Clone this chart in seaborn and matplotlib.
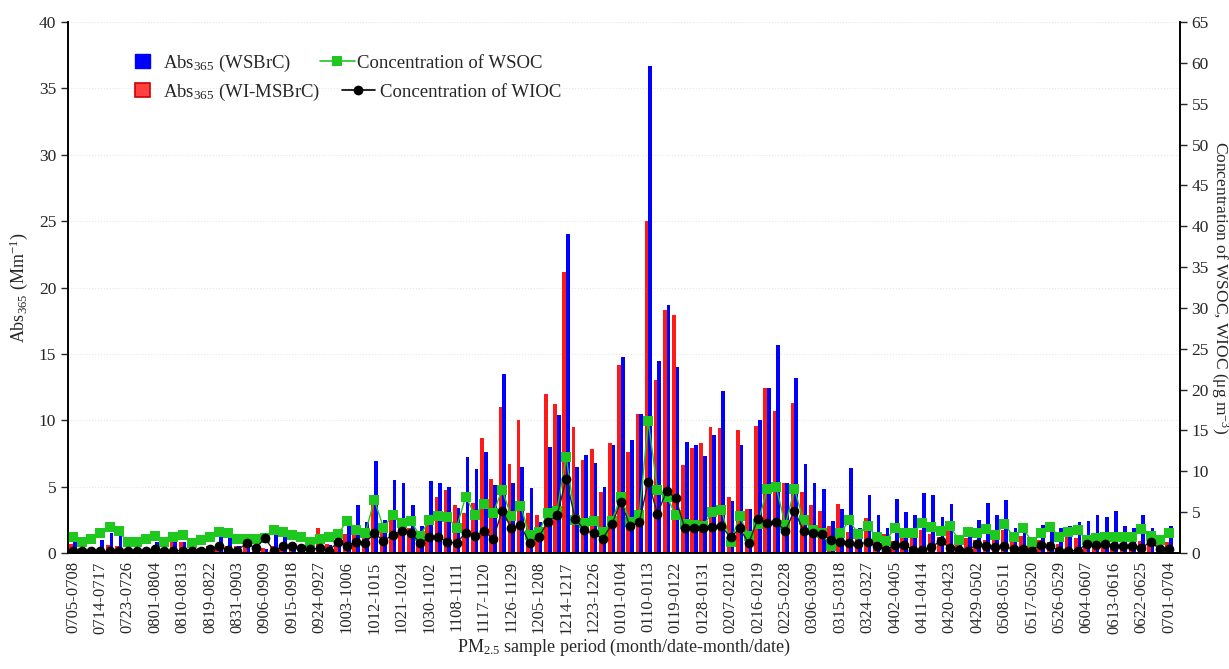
import numpy as np
import pandas as pd
import matplotlib
matplotlib.use("Agg")
import matplotlib.pyplot as plt
import seaborn as sns
from matplotlib.patches import Patch
from matplotlib.lines import Line2D
from matplotlib.legend import Legend

# ---------------- data ----------------
tick_labels = ["0705-0708", "0714-0717", "0723-0726", "0801-0804", "0810-0813", "0819-0822",
               "0831-0903", "0906-0909", "0915-0918", "0924-0927", "1003-1006", "1012-1015",
               "1021-1024", "1030-1102", "1108-1111", "1117-1120", "1126-1129", "1205-1208",
               "1214-1217", "1223-1226", "0101-0104", "0110-0113", "0119-0122", "0128-0131",
               "0207-0210", "0216-0219", "0225-0228", "0306-0309", "0315-0318", "0324-0327",
               "0402-0405", "0411-0414", "0420-0423", "0429-0502", "0508-0511", "0517-0520",
               "0526-0529", "0604-0607", "0613-0616", "0622-0625", "0701-0704"]

abs_wimsbrc = [0.7, 0.4, 0.3, 0.4, 0.6, 0.5, 0.3, 0.3, 0.3, 0.4,
               0.3, 0.8, 0.8, 0.3, 0.4, 0.5, 0.6, 0.5, 0.5, 0.7,
               0.3, 0.35, 0.5, 0.4, 0.4, 0.5, 0.3, 1.9, 0.7, 0.6,
               1.4, 1.5, 1.2, 3.6, 2.0, 2.5, 2.4, 1.9, 1.0, 2.1,
               4.2, 4.75, 3.6, 3.0, 3.8, 8.7, 5.6, 11.0, 6.7, 10.0,
               3.0, 2.9, 12.0, 11.2, 21.2, 9.5, 7.0, 7.8, 4.6, 8.3,
               14.2, 7.6, 10.5, 25.0, 13.0, 18.3, 17.9, 6.6, 7.9, 8.3,
               9.5, 9.4, 4.2, 9.3, 3.3, 9.6, 12.4, 10.7, 5.25, 11.3,
               4.6, 3.6, 3.2, 2.0, 3.7, 1.6, 1.6, 2.6, 1.2, 1.4,
               0.9, 1.2, 1.9, 1.7, 1.4, 1.2, 1.7, 1.0, 1.1, 1.0,
               1.0, 1.5, 1.7, 0.8, 1.3, 0.5, 1.0, 0.85, 0.7, 1.2,
               1.1, 0.5, 0.5, 0.7, 0.6, 0.7, 0.6, 0.9, 0.7, 0.7,
               0.85]

abs_wsbrc = [0.8, 0.4, 0.4, 1.0, 1.5, 1.35, 0.3, 0.3, 0.4, 0.85,
             0.4, 0.8, 0.8, 0.3, 0.4, 0.5, 1.2, 1.1, 0.5, 0.5,
             0.3, 0.3, 1.35, 1.2, 0.7, 0.5, 0.6, 0.6, 0.6, 1.0,
             2.0, 3.6, 2.3, 6.9, 2.5, 5.5, 5.25, 3.6, 2.0, 5.45,
             5.25, 5.0, 3.4, 7.2, 6.3, 7.6, 5.1, 13.5, 5.25, 6.5,
             4.9, 2.3, 8.0, 10.4, 24.0, 6.5, 7.4, 6.8, 5.0, 8.1,
             14.8, 8.5, 10.5, 36.7, 14.5, 18.7, 14.0, 8.4, 8.1, 7.3,
             8.9, 12.2, 3.9, 8.1, 3.3, 10.0, 12.4, 15.7, 5.25, 13.2,
             6.7, 5.3, 4.8, 2.4, 3.3, 6.4, 1.9, 4.4, 2.9, 1.9,
             4.1, 3.1, 2.9, 4.5, 4.4, 2.7, 3.7, 0.6, 1.2, 2.5,
             3.8, 2.9, 4.0, 1.9, 1.5, 0.5, 2.1, 1.6, 1.9, 2.0,
             2.3, 2.4, 2.9, 2.7, 3.2, 2.0, 1.9, 2.9, 1.9, 0.7,
             2.0]

conc_wsoc = [1.9, 1.4, 1.7, 2.4, 3.2, 2.7, 1.3, 1.35, 1.7, 2.1,
             1.3, 2.0, 2.2, 1.2, 1.6, 1.9, 2.6, 2.5, 1.7, 1.7,
             1.7, 1.8, 2.8, 2.6, 2.2, 1.9, 1.3, 1.7, 1.9, 2.3,
             3.9, 2.8, 2.4, 6.5, 3.1, 4.6, 3.7, 3.9, 2.1, 4.0,
             4.5, 4.4, 3.1, 6.9, 4.7, 6.0, 4.9, 7.7, 4.5, 5.8,
             2.2, 2.6, 4.9, 5.2, 11.8, 4.1, 3.7, 3.9, 2.6, 3.9,
             6.9, 3.8, 4.7, 16.1, 7.7, 6.9, 4.7, 3.5, 3.4, 3.3,
             5.0, 5.3, 1.3, 4.5, 2.1, 3.6, 7.8, 8.1, 3.4, 7.8,
             4.0, 2.8, 2.4, 0.8, 2.4, 4.0, 2.3, 3.3, 2.0, 1.5,
             3.1, 2.4, 2.5, 3.7, 3.2, 2.7, 3.3, 1.6, 2.6, 2.5,
             2.9, 2.2, 3.6, 1.9, 3.1, 1.4, 2.4, 3.2, 2.0, 2.6,
             2.8, 1.6, 1.8, 1.9, 2.0, 2.0, 1.9, 2.9, 2.1, 1.6,
             2.4]

conc_wioc = [0.2, 0.2, 0.3, 0.2, 0.2, 0.2, 0.2, 0.2, 0.3, 0.45,
             0.2, 0.3, 0.3, 0.2, 0.3, 0.5, 0.8, 0.4, 0.3, 1.2,
             0.6, 1.8, 0.3, 0.8, 0.9, 0.6, 0.45, 0.6, 0.3, 1.3,
             0.9, 1.4, 1.25, 2.4, 1.5, 2.2, 2.7, 2.5, 1.2, 1.9,
             1.95, 1.4, 1.2, 2.5, 2.1, 2.7, 1.7, 5.2, 3.0, 3.4,
             1.2, 2.0, 3.8, 4.6, 9.0, 4.2, 2.8, 2.4, 1.75, 3.5,
             6.3, 3.25, 3.75, 8.7, 4.8, 7.6, 6.7, 3.0, 3.1, 3.1,
             3.2, 3.3, 1.9, 3.0, 1.2, 4.2, 3.7, 3.8, 2.7, 5.2,
             2.7, 2.4, 2.3, 1.6, 1.4, 1.2, 1.1, 1.3, 0.8, 0.4,
             1.0, 1.0, 0.4, 0.4, 0.7, 1.5, 0.6, 0.4, 0.3, 1.1,
             0.9, 0.7, 0.8, 0.45, 0.45, 0.3, 1.0, 0.8, 0.3, 0.3,
             0.3, 1.1, 1.0, 1.1, 0.8, 0.8, 0.8, 0.6, 1.4, 0.45,
             0.45]

n = len(abs_wsbrc)
sample_idx = np.arange(n)

# ---------------- style ----------------
sns.set_style("white")
plt.rcParams["font.family"] = ["Liberation Serif", "DejaVu Serif"]
plt.rcParams["mathtext.fontset"] = "custom"
plt.rcParams["mathtext.rm"] = "Liberation Serif"
plt.rcParams["mathtext.it"] = "Liberation Serif:italic"
plt.rcParams["mathtext.bf"] = "Liberation Serif:bold"

RED = "#ff1a1a"
BLUE = "#0000ff"
GREEN = "#1ec81e"

fig = plt.figure(figsize=(12.29, 6.69), dpi=100)
ax = fig.add_axes([0.0553, 0.1734, 0.9047, 0.7936])

df = pd.DataFrame({
    "sample": np.concatenate([sample_idx, sample_idx]),
    "abs": np.concatenate([abs_wimsbrc, abs_wsbrc]),
    "type": ["WI-MSBrC"] * n + ["WSBrC"] * n,
})

ax.grid(True, color="#e6e6e6", linestyle=":", linewidth=0.8)
ax.set_axisbelow(True)

sns.barplot(data=df, x="sample", y="abs", hue="type", hue_order=["WI-MSBrC", "WSBrC"],
            palette=[RED, BLUE], saturation=1, width=0.8, errorbar=None,
            legend=False, ax=ax, linewidth=0)

ax.set_xlim(-0.55, 121.2)
ax.set_ylim(0, 40)
ax.set_yticks(np.arange(0, 41, 5))
ax.set_xticks(sample_idx)
labels_full = [""] * n
for k, lab in enumerate(tick_labels):
    labels_full[k * 3] = lab
ax.set_xticklabels(labels_full, rotation=90, fontsize=12)
ax.tick_params(axis="x", direction="out", length=4, width=0.8, pad=2)
ax.tick_params(axis="y", direction="out", length=5, width=1, labelsize=12.5, left=True)
ax.set_xlabel("PM$_{2.5}$ sample period (month/date-month/date)", fontsize=13, labelpad=2)
ax.set_ylabel("Abs$_{365}$ (Mm$^{-1}$)", fontsize=13, labelpad=6)

ax2 = ax.twinx()
sns.lineplot(x=sample_idx, y=conc_wsoc, ax=ax2, color=GREEN, linewidth=1.0,
             marker="s", markersize=7, markeredgewidth=0, markerfacecolor=GREEN)
sns.lineplot(x=sample_idx, y=conc_wioc, ax=ax2, color="#222222", linewidth=1.0,
             marker="o", markersize=7, markeredgewidth=0, markerfacecolor="black")
ax2.set_ylim(0, 65)
ax2.set_yticks(np.arange(0, 66, 5))
ax2.tick_params(axis="y", direction="out", length=5, width=1, labelsize=12.5, right=True)
ax2.set_ylabel("Concentration of WSOC, WIOC (μg m$^{-3}$)", fontsize=12.5, rotation=270,
               labelpad=16)
ax2.set_xlim(-0.55, 121.2)

for a in (ax, ax2):
    a.spines["top"].set_visible(False)
    for s in ("left", "right", "bottom"):
        a.spines[s].set_color("black")
        a.spines[s].set_linewidth(1.2)

# legend: two inline rows, each entry placed on its own
entries = [
    (Patch(facecolor=BLUE, edgecolor=BLUE), "Abs$_{365}$ (WSBrC)", 135, 63, 0.8, 0.7),
    (Line2D([0], [0], color=GREEN, marker="s", markersize=7, markeredgewidth=0, lw=1.2),
     "Concentration of WSOC", 320, 63, 1.85, 0.12),
    (Patch(facecolor="#ff4040", edgecolor="#d00000", linewidth=1.2),
     "Abs$_{365}$ (WI-MSBrC)", 135, 92, 0.8, 0.7),
    (Line2D([0], [0], color="black", marker="o", markersize=7, markeredgewidth=0, lw=1.2),
     "Concentration of WIOC", 342, 92, 1.75, 0.25),
]
W, H = 1229.0, 669.0
for h, lab, px, py, hl, htp in entries:
    lg = Legend(ax2, [h], [lab], loc="center left", bbox_to_anchor=(px / W, 1 - py / H),
                bbox_transform=fig.transFigure, frameon=False, fontsize=13.5,
                handlelength=hl, handleheight=0.8, handletextpad=htp,
                borderpad=0, borderaxespad=0)
    ax2.add_artist(lg)

fig.savefig("out.png", dpi=100)
